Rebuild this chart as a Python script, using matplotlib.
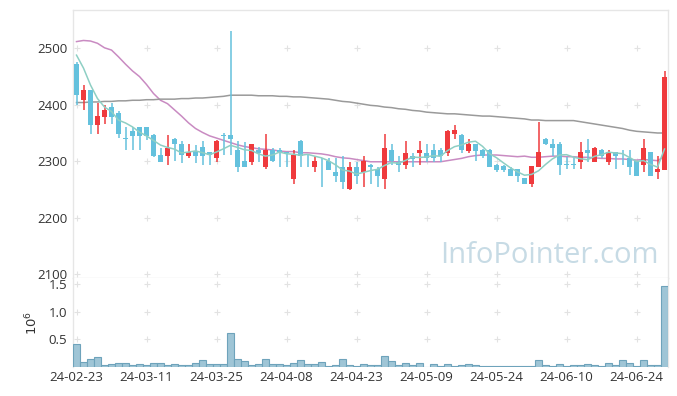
import numpy as np
import pandas as pd
import matplotlib
matplotlib.use("Agg")
import matplotlib.pyplot as plt

plt.rcParams['font.family'] = ['Open Sans', 'DejaVu Sans']

# daily candles, 85 trading days (2024-02-23 .. 2024-06-28)
opens = [2472, 2409, 2426, 2365, 2379, 2396, 2386, 2341, 2354, 2360,
         2360, 2346, 2311, 2309, 2340, 2330, 2309, 2318, 2325, 2316,
         2305, 2347, 2346, 2320, 2300, 2299, 2320, 2290, 2320, 2320,
         2316, 2268, 2336, 2310, 2290, 2301, 2300, 2280, 2290, 2250,
         2290, 2280, 2294, 2286, 2269, 2320, 2299, 2294, 2309, 2315,
         2315, 2320, 2320, 2315, 2349, 2346, 2318, 2330, 2320, 2320,
         2294, 2291, 2286, 2286, 2270, 2260, 2290, 2340, 2330, 2330,
         2295, 2295, 2299, 2320, 2299, 2320, 2299, 2316, 2310, 2305,
         2300, 2294, 2316, 2280, 2285]
highs = [2476, 2435, 2427, 2404, 2399, 2404, 2389, 2360, 2360, 2361,
         2361, 2349, 2324, 2346, 2341, 2336, 2330, 2328, 2336, 2317,
         2337, 2350, 2531, 2336, 2334, 2331, 2325, 2349, 2324, 2324,
         2317, 2320, 2337, 2311, 2310, 2305, 2305, 2305, 2309, 2299,
         2299, 2310, 2295, 2290, 2349, 2330, 2309, 2336, 2315, 2336,
         2330, 2330, 2324, 2355, 2365, 2348, 2340, 2331, 2321, 2321,
         2295, 2294, 2290, 2287, 2271, 2292, 2370, 2341, 2340, 2334,
         2308, 2308, 2334, 2340, 2325, 2321, 2320, 2317, 2320, 2320,
         2301, 2340, 2317, 2309, 2460]
lows = [2400, 2390, 2349, 2349, 2366, 2366, 2341, 2320, 2320, 2320,
        2337, 2308, 2298, 2294, 2300, 2296, 2305, 2296, 2294, 2294,
        2299, 2311, 2311, 2281, 2290, 2294, 2299, 2286, 2298, 2290,
        2290, 2260, 2290, 2290, 2281, 2254, 2285, 2264, 2250, 2249,
        2260, 2254, 2260, 2254, 2250, 2294, 2280, 2286, 2290, 2294,
        2299, 2299, 2299, 2310, 2340, 2315, 2315, 2300, 2305, 2290,
        2280, 2280, 2273, 2264, 2259, 2254, 2289, 2329, 2309, 2275,
        2286, 2286, 2286, 2299, 2298, 2305, 2294, 2286, 2294, 2275,
        2273, 2280, 2274, 2269, 2284]
closes = [2418, 2426, 2365, 2380, 2391, 2379, 2349, 2340, 2345, 2345,
          2345, 2309, 2299, 2324, 2330, 2311, 2317, 2309, 2309, 2311,
          2336, 2345, 2340, 2290, 2290, 2330, 2315, 2320, 2300, 2316,
          2315, 2311, 2310, 2309, 2300, 2300, 2285, 2274, 2263, 2290,
          2274, 2300, 2290, 2274, 2324, 2300, 2294, 2315, 2304, 2320,
          2305, 2305, 2310, 2354, 2355, 2320, 2330, 2318, 2309, 2290,
          2284, 2284, 2274, 2274, 2260, 2291, 2316, 2330, 2324, 2294,
          2294, 2294, 2316, 2315, 2324, 2309, 2316, 2309, 2309, 2290,
          2274, 2324, 2274, 2286, 2450]

# volume in millions
volume = [0.42, 0.09, 0.145, 0.175, 0.036, 0.048, 0.067, 0.067, 0.036, 0.048,
          0.036, 0.067, 0.067, 0.036, 0.048, 0.036, 0.036, 0.067, 0.127, 0.048,
          0.048, 0.048, 0.61, 0.14, 0.11, 0.036, 0.048, 0.14, 0.048, 0.048,
          0.036, 0.067, 0.12, 0.048, 0.048, 0.085, 0.012, 0.036, 0.14, 0.03,
          0.018, 0.048, 0.03, 0.03, 0.195, 0.103, 0.03, 0.067, 0.03, 0.067,
          0.004, 0.048, 0.012, 0.048, 0.012, 0.03, 0.048, 0.03, 0.012, 0.012,
          0.012, 0.012, 0.012, 0.012, 0.012, 0.012, 0.127, 0.03, 0.012, 0.048,
          0.012, 0.03, 0.03, 0.048, 0.03, 0.012, 0.067, 0.03, 0.127, 0.067,
          0.012, 0.127, 0.03, 0.03, 1.47]

# MA5 for the first 4 days (needs earlier closes)
ma5_head = [2488, 2465, 2435, 2411]
ma20 = [2512, 2514, 2513, 2509, 2501, 2497, 2485, 2472, 2460, 2450,
        2436, 2420, 2408, 2402, 2391, 2380, 2368, 2358, 2351, 2345,
        2341, 2337, 2333, 2329, 2326, 2324, 2322, 2321, 2320, 2318,
        2317, 2317, 2315, 2315, 2314, 2313, 2311, 2308, 2306, 2305,
        2303, 2301, 2299, 2299, 2299, 2299, 2299, 2299, 2299, 2299,
        2299, 2299, 2299, 2301, 2303, 2305, 2308, 2310, 2311, 2311,
        2311, 2310, 2309, 2308, 2309, 2307, 2307, 2308, 2309, 2309,
        2308, 2308, 2307, 2307, 2306, 2305, 2305, 2304, 2304, 2303,
        2302, 2303, 2302, 2301, 2308]
ma60 = [2404, 2404, 2405, 2405, 2406, 2406, 2407, 2407, 2408, 2408,
        2409, 2409, 2410, 2410, 2410, 2411, 2411, 2412, 2412, 2413,
        2414, 2415, 2417, 2417, 2417, 2417, 2416, 2416, 2416, 2415,
        2415, 2414, 2414, 2413, 2412, 2411, 2410, 2408, 2406, 2405,
        2403, 2401, 2399, 2398, 2396, 2395, 2393, 2392, 2390, 2389,
        2387, 2386, 2385, 2384, 2384, 2383, 2382, 2381, 2380, 2380,
        2379, 2378, 2377, 2376, 2375, 2373, 2373, 2372, 2372, 2372,
        2372, 2372, 2370, 2368, 2366, 2364, 2362, 2360, 2358, 2355,
        2353, 2352, 2351, 2350, 2350]

tick_labels = ['24-02-23', '24-03-11', '24-03-25', '24-04-08', '24-04-23',
               '24-05-09', '24-05-24', '24-06-10', '24-06-24']
price_ticks = [2100, 2200, 2300, 2400, 2500]
vol_ticks = [0.5, 1.0, 1.5]

df = pd.DataFrame({'open': opens, 'high': highs, 'low': lows,
                   'close': closes, 'vol': volume})
x = np.arange(len(df))
ma5 = df['close'].rolling(5).mean().to_numpy()
ma5[:4] = ma5_head

up_c = '#ef3a3d'
down_c = '#64c1dd'
grid_c = '#e2e2e2'
frame_c = '#e6e6e6'
tick_x = x[::10]

fig = plt.figure(figsize=(6.77, 3.96), dpi=100)
ax = fig.add_axes([73/677, 1-278/396, 595/677, 268/396])
axv = fig.add_axes([73/677, 1-367/396, 595/677, 89/396], sharex=ax)

# candles
up = df['close'] >= df['open']
colors = np.where(up, up_c, down_c)
body_lo = np.minimum(df['open'], df['close'])
body_h = np.maximum(np.abs(df['close'] - df['open']), 1.0)
ax.vlines(x, df['low'], df['high'], colors=colors, linewidth=1.1, zorder=3)
ax.bar(x, body_h, bottom=body_lo, width=0.7, color=colors, linewidth=0, zorder=4)

ax.plot(x, ma5, color='#8ecfc4', linewidth=1.1, zorder=5)
ax.plot(x, ma20, color='#c98bc2', linewidth=1.1, zorder=2)
ax.plot(x, ma60, color='#9a9a9a', linewidth=1.1, zorder=2)

ax.set_xlim(-0.5, len(df) - 0.5)
ax.set_ylim(2093, 2568)
ax.set_yticks(price_ticks)
ax.tick_params(axis='y', length=0, pad=4, labelsize=9.5, labelcolor='#333333')
ax.tick_params(axis='x', length=0, labelbottom=False)

# grid drawn as small crosses
gx, gy = np.meshgrid(tick_x, price_ticks)
ax.plot(gx.ravel(), gy.ravel(), '+', color=grid_c, markersize=5, mew=0.8, zorder=1)

ax.text(0.80, 0.085, 'InfoPointer.com', transform=ax.transAxes, ha='center',
        va='center', fontsize=21, color='#c7dbe5', zorder=0)

# volume
axv.bar(x, df['vol'], width=1.0, color='#9fc5d6', edgecolor='#6ea3bb',
        linewidth=0.8, zorder=3)
axv.set_ylim(0, 1.618)
axv.set_yticks(vol_ticks)
axv.set_yticklabels(['0.5', '1.0', '1.5'])
axv.set_xticks(tick_x)
axv.set_xticklabels(tick_labels)
axv.tick_params(length=0, labelsize=9.5, labelcolor='#333333')
axv.tick_params(axis='y', pad=4)
axv.tick_params(axis='x', pad=3)
axv.set_ylabel('$10^6$', fontsize=9.5, color='#333333', labelpad=6)
vx, vy = np.meshgrid(tick_x, vol_ticks)
axv.plot(vx.ravel(), vy.ravel(), '+', color=grid_c, markersize=5, mew=0.8, zorder=1)

for a in (ax, axv):
    for s in a.spines.values():
        s.set_color(frame_c)
        s.set_linewidth(1.0)
axv.spines['bottom'].set_visible(False)
axv.spines['top'].set_visible(False)

fig.savefig('out.png', dpi=100)
